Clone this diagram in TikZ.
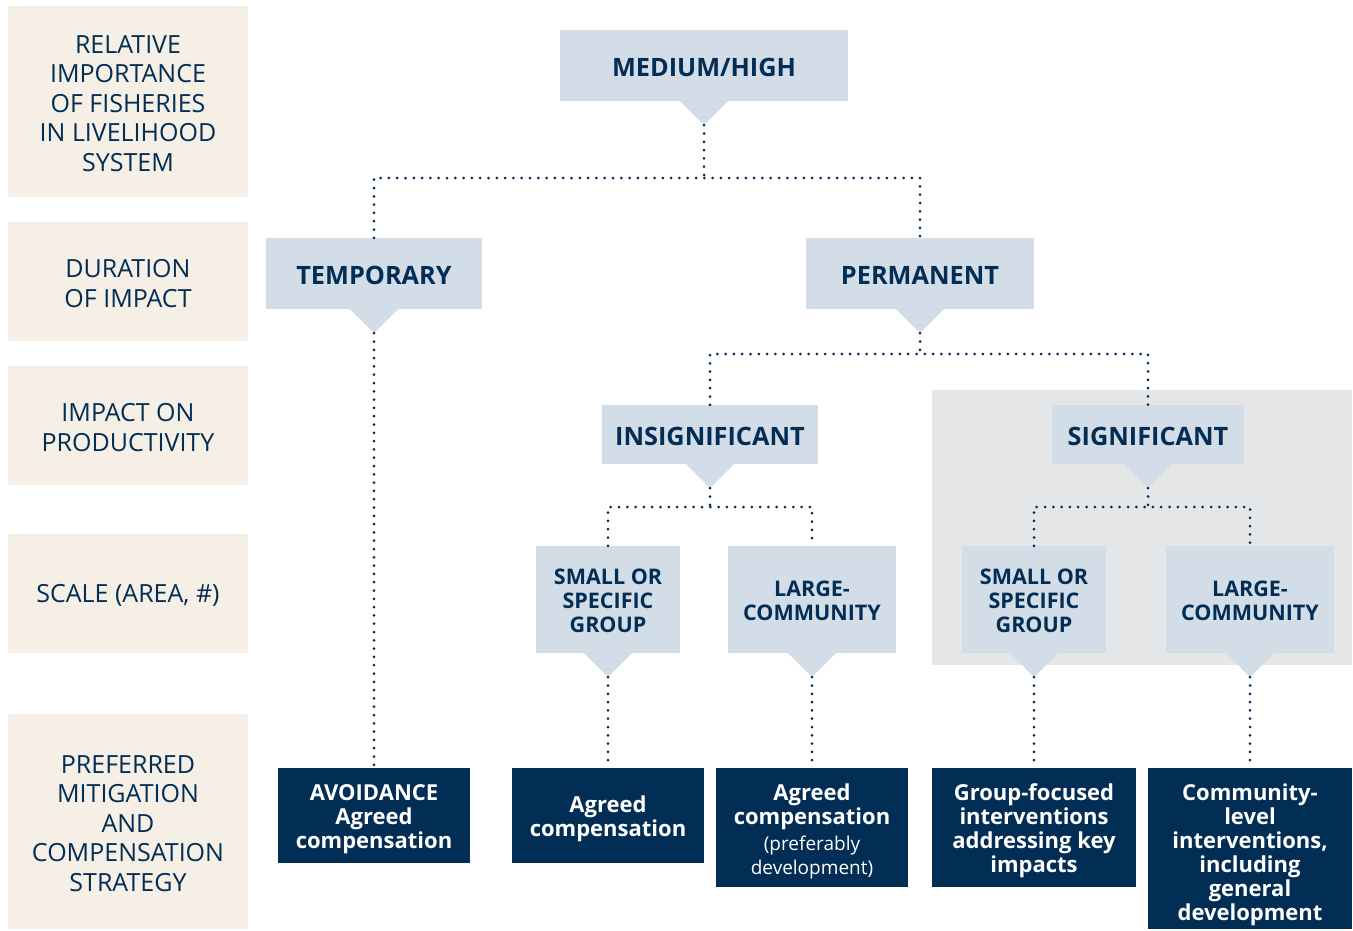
\documentclass[tikz,border=0pt]{standalone}
\usepackage{fontspec}
\setmainfont{Open Sans}
\definecolor{beige}{HTML}{F5EFE5}
\definecolor{lblue}{HTML}{D3DDE7}
\definecolor{navy}{HTML}{022D55}
\definecolor{greybg}{HTML}{E5E6E8}
\newcommand\mkptr[1]{\fill[lblue] (#1.south) ++(-24,0) -- ++(24,24) -- ++(24,-24) -- cycle;
  \coordinate (#1-tip) at ([yshift=-24pt]#1.south);}
% #1 width, #2 extra space on top (moves text down by half), #3 lines
\newcommand\tx[3]{\parbox{#1}{\centering\vspace*{#2}#3}}
\begin{document}
\begin{tikzpicture}[x=1pt,y=-1pt,
  side/.style={fill=beige, text=navy, font=\fontsize{25}{29.5}\selectfont, minimum width=240pt, inner sep=0pt},
  lbox/.style={fill=lblue, text=navy, font=\bfseries\fontsize{25.3}{28}\selectfont, inner sep=0pt},
  sbox/.style={fill=lblue, text=navy, font=\bfseries\fontsize{21.5}{24}\selectfont, inner sep=0pt},
  dbox/.style={fill=navy, text=white, font=\bfseries\fontsize{22}{24}\selectfont, inner sep=0pt},
  dotline/.style={draw=navy, line width=3pt, line cap=round, dash pattern=on 0pt off 8.3pt},
]
\useasboundingbox (0,0) rectangle (1353,930);
% left column
\node[side, minimum height=191pt] (s1) at (128,101.5) {\tx{236pt}{4pt}{RELATIVE\\IMPORTANCE\\OF FISHERIES\\IN LIVELIHOOD\\SYSTEM}};
\node[side, minimum height=119pt] (s2) at (128,281.5) {\tx{236pt}{4pt}{DURATION\\OF IMPACT}};
\node[side, minimum height=119pt] (s3) at (128,425.5) {\tx{236pt}{4pt}{IMPACT ON\\PRODUCTIVITY}};
\node[side, minimum height=119pt] (s4) at (128,593.5) {\tx{236pt}{4pt}{SCALE (AREA, \#)}};
\node[side, minimum height=215pt] (s5) at (128,821.5) {\tx{236pt}{4pt}{PREFERRED\\MITIGATION\\AND\\COMPENSATION\\STRATEGY}};
% grey background
\fill[greybg] (932,390) rectangle (1352,665);
% light boxes
\node[lbox, minimum width=288pt, minimum height=71pt] (mh) at (704,65.5) {\tx{280pt}{3pt}{MEDIUM/HIGH}};
\node[lbox, minimum width=216pt, minimum height=71pt] (temp) at (374,273.5) {\tx{210pt}{3pt}{TEMPORARY}};
\node[lbox, minimum width=228pt, minimum height=71pt] (perm) at (920,273.5) {\tx{220pt}{3pt}{PERMANENT}};
\node[lbox, minimum width=216pt, minimum height=59pt] (insig) at (710,434.5) {\tx{210pt}{3pt}{INSIGNIFICANT}};
\node[lbox, minimum width=192pt, minimum height=59pt] (sig) at (1148,434.5) {\tx{186pt}{3pt}{SIGNIFICANT}};
\node[sbox, minimum width=144pt, minimum height=107pt] (sm1) at (608,599.5) {\tx{140pt}{2pt}{SMALL OR\\SPECIFIC\\GROUP}};
\node[sbox, minimum width=168pt, minimum height=107pt] (lg1) at (812,599.5) {\tx{164pt}{2pt}{LARGE-\\COMMUNITY}};
\node[sbox, minimum width=144pt, minimum height=107pt] (sm2) at (1034,599.5) {\tx{140pt}{2pt}{SMALL OR\\SPECIFIC\\GROUP}};
\node[sbox, minimum width=168pt, minimum height=107pt] (lg2) at (1250,599.5) {\tx{164pt}{2pt}{LARGE-\\COMMUNITY}};
\mkptr{mh}\mkptr{temp}\mkptr{perm}\mkptr{insig}\mkptr{sig}
\mkptr{sm1}\mkptr{lg1}\mkptr{sm2}\mkptr{lg2}
% dark boxes
\node[dbox, minimum width=192pt, minimum height=95pt] (d1) at (374,815.5) {\tx{188pt}{8pt}{AVOIDANCE\\Agreed\\compensation}};
\node[dbox, minimum width=192pt, minimum height=95pt] (d2) at (608,815.5) {\tx{188pt}{6pt}{Agreed\\compensation}};
\node[dbox, minimum width=192pt, minimum height=119pt] (d3) at (812,827.5) {\tx{188pt}{8pt}{Agreed\\compensation\\[2pt]{\mdseries\fontsize{19}{22}\selectfont (preferably}\\{\mdseries\fontsize{19}{22}\selectfont development)}}};
\node[dbox, minimum width=204pt, minimum height=119pt] (d4) at (1034,827.5) {\tx{200pt}{6pt}{Group-focused\\interventions\\addressing key\\impacts}};
\node[dbox, minimum width=204pt, minimum height=161pt] (d5) at (1250,848.5) {\tx{200pt}{12pt}{Community-\\level\\interventions,\\including\\general\\development}};
% connectors
\coordinate (j0) at (704,178);
\coordinate (j1) at (920,354);
\coordinate (j2) at (710,507);
\coordinate (j3) at (1148,507);
\draw[dotline] (mh-tip) -- (j0);
\draw[dotline] (temp.north) |- (j0) -| (perm.north);
\draw[dotline] (temp-tip) -- (d1.north);
\draw[dotline] (perm-tip) -- (j1);
\draw[dotline] (insig.north) |- (j1) -| (sig.north);
\draw[dotline] (insig-tip) -- (j2);
\draw[dotline] (sm1.north) |- (j2) -| (lg1.north);
\draw[dotline] (sig-tip) -- (j3);
\draw[dotline] (sm2.north) |- (j3) -| (lg2.north);
\draw[dotline] (sm1-tip) -- (d2.north);
\draw[dotline] (lg1-tip) -- (d3.north);
\draw[dotline] (sm2-tip) -- (d4.north);
\draw[dotline] (lg2-tip) -- (d5.north);
\end{tikzpicture}
\end{document}
